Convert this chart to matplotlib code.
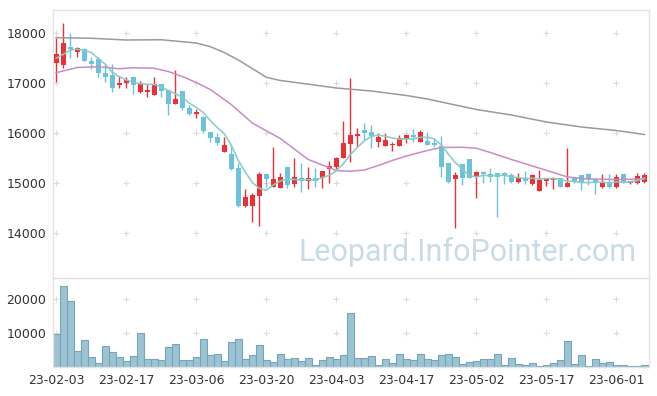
import numpy as np
import pandas as pd
import matplotlib
matplotlib.use("Agg")
import matplotlib.pyplot as plt

# ---- data ----
opens = [17400, 17350, 17710, 17620, 17680, 17430, 17480, 17200, 17150, 16960,
         16985, 17110, 16816, 16816, 16750, 16964, 16850, 16564, 16830, 16484,
         16376, 16317, 16010, 15903, 15617, 15570, 15283, 14537, 14537, 14737,
         15163, 14917, 14883, 15303, 14963, 15083, 15037, 15083, 15083, 15270,
         15317, 15497, 15770, 15930, 16050, 16010, 15817, 15737, 15743, 15737,
         15877, 15943, 15817, 15837, 15790, 15730, 15383, 15070, 15370, 15470,
         15103, 15210, 15170, 15183, 15190, 15150, 15017, 15050, 14970, 14837,
         15037, 15050, 15083, 14917, 15097, 15150, 15170, 15063, 14917, 14997,
         14903, 15170, 14983, 14983, 15017]
highs = [17896, 18184, 17984, 17716, 17690, 17516, 17516, 17364, 17364, 17130,
         17110, 17110, 17030, 16970, 17110, 16964, 16850, 17260, 16830, 16550,
         16470, 16340, 16020, 15983, 15903, 15750, 15383, 14863, 14783, 15210,
         15163, 15703, 15183, 15303, 15483, 15383, 15317, 15283, 15240, 15437,
         15517, 16230, 17083, 16083, 16183, 16143, 15983, 15997, 15817, 15957,
         15950, 16077, 16050, 16010, 15877, 15930, 15383, 15217, 15370, 15470,
         15230, 15230, 15283, 15197, 15217, 15183, 15197, 15237, 15170, 15250,
         15083, 15117, 15090, 15683, 15117, 15150, 15183, 15083, 15163, 15163,
         15170, 15170, 15037, 15197, 15183]
lows = [17016, 17296, 17496, 17504, 17430, 17270, 17116, 17016, 16804, 16884,
        16884, 16776, 16784, 16716, 16750, 16716, 16350, 16564, 16450, 16350,
        16284, 15997, 15803, 15743, 15617, 15250, 14517, 14517, 14203, 14130,
        14917, 14917, 14883, 14883, 14917, 14817, 14870, 14917, 14883, 14983,
        15263, 15497, 15417, 15717, 15850, 15683, 15703, 15737, 15637, 15737,
        15783, 15817, 15817, 15750, 15703, 15103, 14997, 14083, 14943, 15083,
        14683, 14983, 15003, 14317, 14970, 14997, 14983, 14970, 14950, 14837,
        14930, 14863, 14917, 14903, 14997, 14850, 14950, 14770, 14883, 14883,
        14883, 14997, 14963, 14970, 14983]
closes = [17580, 17800, 17680, 17700, 17440, 17380, 17200, 17120, 16900, 16990,
          17050, 16945, 16984, 16850, 16964, 16836, 16564, 16670, 16496, 16376,
          16416, 16037, 15883, 15783, 15757, 15277, 14530, 14703, 14743, 15163,
          15077, 15063, 15103, 14957, 15103, 15037, 15090, 15037, 15230, 15330,
          15483, 15797, 15950, 15943, 15997, 15930, 15917, 15850, 15757, 15883,
          15950, 15917, 16010, 15750, 15743, 15317, 15017, 15150, 15097, 15097,
          15203, 15163, 15117, 15117, 15137, 15017, 15097, 15030, 15150, 15050,
          15070, 15097, 14917, 14997, 15017, 14983, 15063, 14997, 14997, 14903,
          15103, 15017, 15037, 15130, 15150]
volumes = [9800, 23900, 19500, 4800, 8000, 2940, 1180, 6170, 4500, 2940,
           1760, 3330, 10000, 2350, 2350, 2160, 5880, 6760, 2160, 2160,
           2940, 8230, 3630, 3820, 1860, 7350, 8230, 2450, 3530, 6470,
           2160, 1570, 3820, 2450, 2650, 1860, 2650, 590, 2160, 2940,
           2450, 3630, 15900, 2650, 2650, 3230, 590, 2350, 1180, 3820,
           2350, 2060, 3820, 2350, 2060, 3530, 3820, 2940, 880, 1470,
           1760, 2350, 2350, 3820, 590, 2650, 880, 590, 1180, 290,
           590, 1180, 2060, 7640, 880, 3530, 290, 2350, 1180, 1470,
           590, 590, 290, 290, 590]
# closes before the first shown day, estimated from the start of the 5-day line
prior_closes = [17405, 17245, 17615, 17575]

# 20-day and long moving average lines, read at these bar positions
ma20_x = [0, 3, 6, 9, 11, 14, 16, 18, 20, 22, 25, 28, 32, 36, 40, 42, 44, 46,
          48, 50, 53, 55, 58, 60, 62, 65, 68, 71, 73, 76, 80, 84]
ma20_y = [17196, 17300, 17316, 17275, 17295, 17285, 17220, 17120, 17000, 16860,
          16560, 16190, 15880, 15460, 15240, 15225, 15250, 15340, 15440, 15530,
          15640, 15700, 15705, 15685, 15600, 15460, 15330, 15200, 15110, 15070,
          15060, 15070]
ma60_x = [0, 5, 10, 15, 20, 22, 24, 26, 28, 30, 32, 35, 40, 45, 50, 53, 56,
          60, 65, 70, 75, 80, 84]
ma60_y = [17897, 17885, 17850, 17855, 17790, 17717, 17600, 17450, 17280, 17105,
          17040, 16985, 16890, 16830, 16740, 16670, 16580, 16460, 16350, 16210,
          16110, 16040, 15960]

tick_pos = [0, 10, 20, 30, 40, 50, 60, 70, 80]
tick_labels = ['23-02-03', '23-02-17', '23-03-06', '23-03-20', '23-04-03',
               '23-04-17', '23-05-02', '23-05-17', '23-06-01']
price_ticks = [14000, 15000, 16000, 17000, 18000]
vol_ticks = [10000, 20000]

# ---- figure ----
W, H = 657, 396
fig = plt.figure(figsize=(W / 100, H / 100), dpi=100)
L, R = 53, 649
ax = fig.add_axes([L / W, (H - 277.5) / H, (R - L) / W, (277.5 - 10) / H])
axv = fig.add_axes([L / W, (H - 367.3) / H, (R - L) / W, (367.3 - 278) / H])

UP, DOWN = '#ec3038', '#6cc2da'
o = np.array(opens, float); h = np.array(highs, float)
lo = np.array(lows, float); c = np.array(closes, float)
x = np.arange(len(o))
cols = [UP if cc >= oo else DOWN for oo, cc in zip(o, c)]

ax.vlines(x, lo, h, colors=cols, linewidth=1.0, zorder=2)
body_b = np.minimum(o, c)
body_h = np.maximum(np.abs(c - o), 35)
ax.bar(x, body_h, bottom=body_b, width=0.68, color=cols, linewidth=0, zorder=3)

ma5 = pd.Series(prior_closes + closes).rolling(5).mean().to_numpy()[len(prior_closes):]
ax.plot(ma60_x, ma60_y, color='#9a9a9a', lw=1.1, zorder=4)
ax.plot(ma20_x, ma20_y, color='#c98bc6', lw=1.1, zorder=4)
ax.plot(x, ma5, color='#86cdc4', lw=1.2, zorder=4, alpha=0.95)

ax.text(0.98, 0.06, 'Leopard.InfoPointer.com', transform=ax.transAxes,
        ha='right', va='baseline', fontsize=22, family='Roboto',
        color='#c9dbe5', zorder=1)

ax.set_xlim(-0.45, 84.65)
ax.set_ylim(13100, 18450)
ax.set_yticks(price_ticks)
ax.set_xticks([])

axv.bar(x, volumes, width=1.0, color='#9cc3d3', edgecolor='#76a4b8',
        linewidth=0.8, zorder=2)
axv.set_xlim(-0.45, 84.65)
axv.set_ylim(0, 26260)
axv.set_yticks(vol_ticks)
axv.set_xticks(tick_pos)
axv.set_xticklabels(tick_labels)

for a, yt in ((ax, price_ticks), (axv, vol_ticks)):
    gx, gy = np.meshgrid(tick_pos, yt)
    a.plot(gx.ravel(), gy.ravel(), ls='none', marker='+', ms=5, mew=0.8,
           color='#dcdcdc', zorder=1)
    for s in a.spines.values():
        s.set_color('#e3e3e3')
        s.set_linewidth(1.0)
    a.tick_params(length=0, labelsize=9, colors='#333333', pad=5)

fig.savefig('out.png', dpi=100, facecolor='white')
